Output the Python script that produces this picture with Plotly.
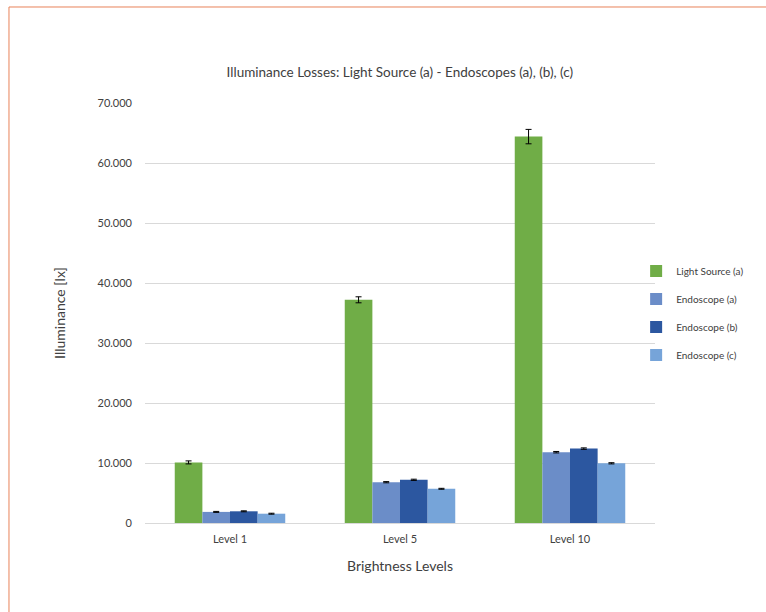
import plotly.graph_objects as go

categories = ["Level 1", "Level 5", "Level 10"]
series_names = ["Light Source (a)", "Endoscope (a)", "Endoscope (b)", "Endoscope (c)"]
light_source_a = [10100, 37200, 64400]
endoscope_a = [1850, 6800, 11800]
endoscope_b = [1950, 7200, 12400]
endoscope_c = [1550, 5700, 9950]
err_light_source_a = [250, 500, 1200]
err_endoscope_a = [80, 100, 120]
err_endoscope_b = [80, 100, 120]
err_endoscope_c = [80, 80, 100]
y_ticks = [0, 10000, 20000, 30000, 40000, 50000, 60000, 70000]

colors = ["#70AD47", "#6B8DC8", "#2C57A0", "#76A4D9"]
values = [light_source_a, endoscope_a, endoscope_b, endoscope_c]
errors = [err_light_source_a, err_endoscope_a, err_endoscope_b, err_endoscope_c]

FONT = "Lato"
fig = go.Figure()
for name, vals, errs, col in zip(series_names, values, errors, colors):
    fig.add_trace(go.Bar(
        name=name, x=categories, y=vals, marker_color=col,
        marker_line_width=0, legendgroup=name,
        error_y=dict(type="data", array=errs, visible=True, color="#000000",
                     thickness=1, width=3),
    ))

fig.update_layout(
    width=766, height=612,
    margin=dict(l=145, r=111, t=103, b=89, autoexpand=False),
    paper_bgcolor="white", plot_bgcolor="white",
    separators=",.",
    barmode="group", bargap=0.35, bargroupgap=0,
    font=dict(family=FONT, color="#404040"),
    title=dict(text="Illuminance Losses: Light Source (a) - Endoscopes (a), (b), (c)",
               x=0.522, xanchor="center", y=1 - 72 / 612, yanchor="middle",
               font=dict(size=13.5, color="#404040", family=FONT)),
    legend=dict(x=0.963, xanchor="left", y=0.5, yanchor="middle",
                font=dict(size=10, color="#404040", family=FONT),
                tracegroupgap=9, itemwidth=30, bgcolor="rgba(0,0,0,0)"),
    showlegend=True,
    shapes=[
        dict(type="line", xref="paper", yref="paper", x0=-0.2667, x1=1.22,
             y0=1.2286, y1=1.2286, line=dict(color="#E8825A", width=1)),
        dict(type="line", xref="paper", yref="paper", x0=-0.2667, x1=-0.2667,
             y0=1.2286, y1=-0.22, line=dict(color="#E8825A", width=1)),
    ],
)
fig.update_xaxes(
    title=dict(text="Brightness Levels", font=dict(size=14, color="#404040", family=FONT), standoff=16),
    tickfont=dict(size=11, color="#404040", family=FONT),
    showgrid=False, showline=True, linecolor="#D9D9D9", linewidth=1, ticks="",
    ticklabelstandoff=6,
)
fig.update_yaxes(
    title=dict(text="Illuminance [lx]", font=dict(size=14, color="#404040", family=FONT), standoff=28),
    range=[0, 70000], tickvals=y_ticks, tickformat=",d",
    tickfont=dict(size=11, color="#404040", family=FONT),
    showgrid=True, gridcolor="#D9D9D9", gridwidth=1, zeroline=False,
    showline=False, ticks="", ticklabelstandoff=12,
)

fig.write_html("out.html", config={"displayModeBar": False},
               post_script="document.body.style.margin='0';document.body.style.padding='0';document.body.style.overflow='hidden';")
